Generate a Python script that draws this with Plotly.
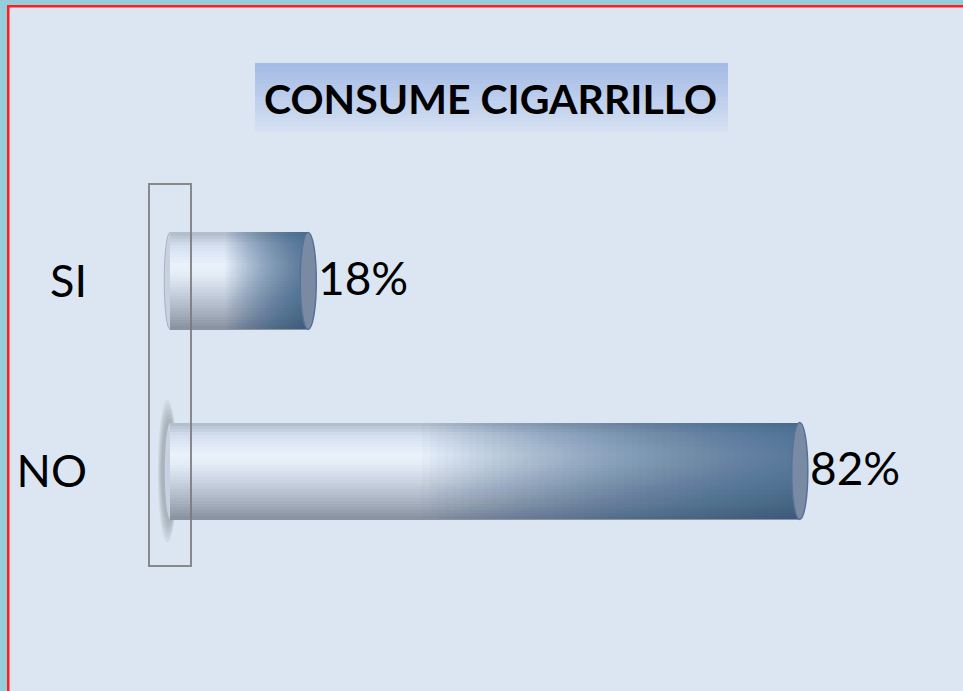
import plotly.graph_objects as go

# ---- data ----
categories = ["SI", "NO"]
values = [18, 82]
value_labels = ["18%", "82%"]
title_text = "CONSUME CIGARRILLO"

W, H = 963, 691
BG = "#dce6f2"
FONT = "Lato"

def px_x(p):
    return p / W

def px_y(p):
    return 1 - p / H

def hex2rgb(h):
    h = h.lstrip("#")
    return [int(h[i:i + 2], 16) for i in (0, 2, 4)]

def interp_colors(stops, n):
    out = []
    m = len(stops) - 1
    for k in range(n):
        t = k / (n - 1) * m
        j = min(int(t), m - 1)
        f = t - j
        a, b = hex2rgb(stops[j]), hex2rgb(stops[j + 1])
        out.append("rgb(%d,%d,%d)" % tuple(round(a[q] + (b[q] - a[q]) * f) for q in range(3)))
    return out

fig = go.Figure()

# cylinder body: vertical shading bands (top -> bottom)
profile = ["#b4bfcd", "#d2ddee", "#dfe9f7", "#eaf2fb", "#e2eaf5",
           "#d2dbe8", "#c2cbd9", "#b1bac9", "#9fa8b7", "#8a93a2"]
band_colors = interp_colors(profile, 32)
bar_w = 0.51
nb = len(band_colors)
for i, c in enumerate(band_colors):
    fig.add_trace(go.Bar(
        x=values, y=categories, orientation="h",
        width=bar_w / nb + 0.003, offset=-bar_w / 2 + i * bar_w / nb,
        marker=dict(color=c, line=dict(width=0)),
        hoverinfo="skip", showlegend=False))

# darkening toward the far end of each cylinder (styling overlays)
nsteps = 48
fracs = [0.40 + 0.58 * k / (nsteps - 1) for k in range(nsteps)]
for f in fracs:
    fig.add_trace(go.Bar(
        x=[v * (1 - f) for v in values], base=[v * f for v in values],
        y=categories, orientation="h",
        width=bar_w, offset=-bar_w / 2,
        marker=dict(color="rgba(35,70,120,0.025)", line=dict(width=0)),
        hoverinfo="skip", showlegend=False))

shapes = []
# outer frame
shapes.append(dict(type="rect", xref="paper", yref="paper", x0=0, x1=px_x(7), y0=0, y1=1,
                   fillcolor="#96cddc", line=dict(width=0), layer="below"))
shapes.append(dict(type="rect", xref="paper", yref="paper", x0=0, x1=1, y0=px_y(5), y1=1,
                   fillcolor="#96cddc", line=dict(width=0), layer="below"))
shapes.append(dict(type="rect", xref="paper", yref="paper", x0=px_x(7), x1=px_x(9.5), y0=0, y1=px_y(5),
                   fillcolor="#ff1e1e", line=dict(width=0), layer="above"))
shapes.append(dict(type="rect", xref="paper", yref="paper", x0=px_x(7), x1=1, y0=px_y(7.5), y1=px_y(5),
                   fillcolor="#ff1e1e", line=dict(width=0), layer="above"))

# title box gradient (top -> bottom)
tb_x0, tb_x1, tb_y0, tb_y1 = 255, 728, 63, 131
grad = interp_colors(["#a4bbe6", "#d4dff1"], 16)
n = len(grad)
for i, c in enumerate(grad):
    y0p = tb_y0 + (tb_y1 - tb_y0) * i / n
    y1p = tb_y0 + (tb_y1 - tb_y0) * (i + 1) / n
    shapes.append(dict(type="rect", xref="paper", yref="paper",
                       x0=px_x(tb_x0), x1=px_x(tb_x1), y0=px_y(y1p + 0.5), y1=px_y(y0p),
                       fillcolor=c, line=dict(width=0), layer="below"))

# 3D wall outline
shapes.append(dict(type="rect", xref="paper", yref="paper",
                   x0=px_x(149), x1=px_x(191), y0=px_y(566), y1=px_y(184),
                   fillcolor="rgba(0,0,0,0)", line=dict(color="rgba(120,120,120,0.85)", width=2),
                   layer="above"))

# cylinder caps
for i, v in enumerate(values):
    # soft shadow around the base (visible mainly for the long bar)
    strength = (v / max(values)) ** 3
    for k in range(5):
        grow = 0.02 + 0.025 * k
        shapes.append(dict(type="circle", xref="x", yref="y",
                           x0=-1.1 - 0.12 * k, x1=0.9, y0=i - bar_w / 2 - grow, y1=i + bar_w / 2 + grow,
                           fillcolor="rgba(90,95,105,%.3f)" % (0.09 * strength),
                           line=dict(width=0), layer="below"))
    # base end
    shapes.append(dict(type="circle", xref="x", yref="y",
                       x0=-0.75, x1=0.75, y0=i - bar_w / 2, y1=i + bar_w / 2,
                       fillcolor="#c7d1df", line=dict(color="#a9b2c0", width=1), layer="below"))
    # far end
    shapes.append(dict(type="circle", xref="x", yref="y",
                       x0=v - 1.05, x1=v + 1.05, y0=i - bar_w / 2, y1=i + bar_w / 2,
                       fillcolor="#7a8aa3", line=dict(color="#56729a", width=1.5), layer="above"))

annotations = [dict(text="<b>" + title_text + "</b>", xref="paper", yref="paper",
                    x=px_x(490), y=px_y(98), xanchor="center", yanchor="middle",
                    showarrow=False, font=dict(family=FONT, size=41, color="black"))]
for c, v, t in zip(categories, values, value_labels):
    annotations.append(dict(text=t, x=v, y=c, xref="x", yref="y", xanchor="left",
                            yanchor="middle", xshift=8, yshift=3, showarrow=False,
                            font=dict(family=FONT, size=46, color="black")))

fig.update_layout(
    width=W, height=H, autosize=False,
    margin=dict(l=0, r=0, t=0, b=0),
    paper_bgcolor=BG, plot_bgcolor="rgba(0,0,0,0)",
    barmode="overlay", bargap=0,
    shapes=shapes, annotations=annotations,
    showlegend=False,
    xaxis=dict(domain=[px_x(150), px_x(920)], range=[-2.6, 97.66],
               showgrid=False, zeroline=False, showticklabels=False, showline=False,
               fixedrange=True),
    yaxis=dict(domain=[px_y(600), px_y(150)], range=[1.679, -0.689],
               showgrid=False, zeroline=False, showline=False, ticks="",
               tickfont=dict(family=FONT, size=45, color="black"),
               ticklabelstandoff=62, fixedrange=True),
)

fig.write_html("out.html", config={"displayModeBar": False},
               post_script="document.body.style.margin='0px';document.body.style.overflow='hidden';")
